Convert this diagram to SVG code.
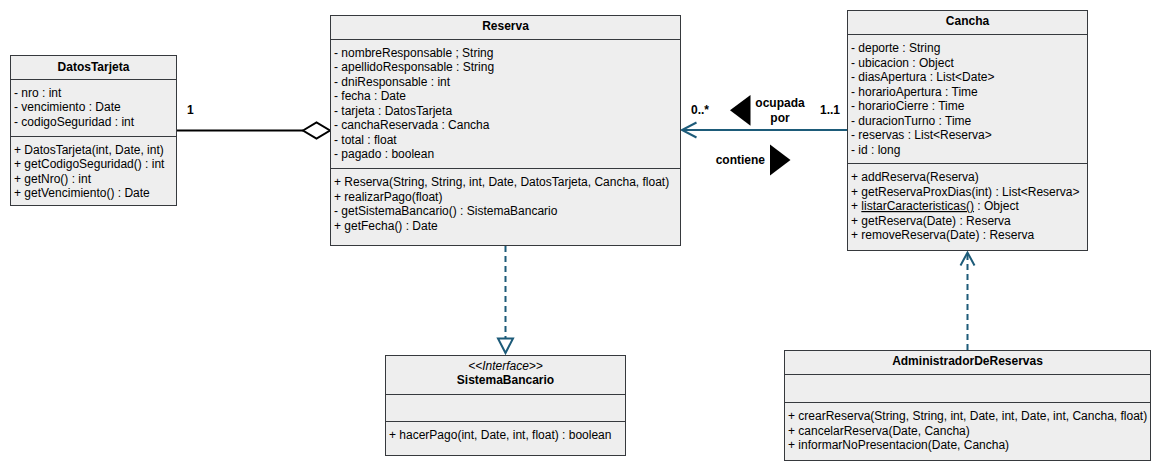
<svg xmlns="http://www.w3.org/2000/svg" width="1161" height="472" viewBox="0 0 1161 472">
<style>
.box{fill:#eeeeee;stroke:#36393d;stroke-width:1}
.sep{stroke:#36393d;stroke-width:1}
text{font-family:"Liberation Sans",Arial,sans-serif;font-size:12px;fill:#000}
.t{font-weight:bold;text-anchor:middle}
.lbl{font-weight:bold}
.blue{stroke:#1d5b79;stroke-width:2;fill:none}
.dash{stroke-dasharray:6 4}
</style>
<rect width="1161" height="472" fill="#ffffff"/>

<g id="connectors">
  <!-- aggregation DatosTarjeta - Reserva -->
  <line x1="176.5" y1="130.5" x2="303" y2="130.5" stroke="#000" stroke-width="2"/>
  <path d="M303 130.5 L316.5 122.5 L330 130.5 L316.5 138.5 Z" fill="#fff" stroke="#000" stroke-width="2"/>
  <text class="lbl" x="187" y="114">1</text>
  <!-- association Cancha -> Reserva -->
  <line class="blue" x1="847" y1="130" x2="682" y2="130"/>
  <path class="blue" d="M696.5 122.5 L682 130 L696.5 137.5"/>
  <text class="lbl" x="691" y="114">0..*</text>
  <text class="lbl" x="820" y="114">1..1</text>
  <text class="lbl" x="780" y="107" text-anchor="middle">ocupada</text>
  <text class="lbl" x="780" y="122" text-anchor="middle">por</text>
  <path d="M750.5 95 L730 110.3 L750.5 125.7 Z" fill="#000"/>
  <text class="lbl" x="765" y="164" text-anchor="end">contiene</text>
  <path d="M770 144.5 L790.5 160 L770 175.5 Z" fill="#000"/>
  <!-- realization Reserva -> SistemaBancario -->
  <line class="blue dash" x1="505.5" y1="246" x2="505.5" y2="338"/>
  <path d="M498 338.5 L513 338.5 L505.5 353 Z" fill="#fff" stroke="#1d5b79" stroke-width="2"/>
  <!-- dependency Admin -> Cancha -->
  <line class="blue dash" x1="967.5" y1="350" x2="967.5" y2="254"/>
  <path class="blue" d="M960.5 265.5 L967.5 252.5 L974.5 265.5"/>
</g>

<g id="DatosTarjeta">
  <rect class="box" x="10.5" y="55.5" width="166" height="150"/>
  <line class="sep" x1="10.5" y1="79.5" x2="176.5" y2="79.5"/>
  <line class="sep" x1="10.5" y1="136.5" x2="176.5" y2="136.5"/>
  <text class="t" x="93.5" y="71">DatosTarjeta</text>
  <text x="14" y="96.5">- nro : int</text>
  <text x="14" y="111">- vencimiento : Date</text>
  <text x="14" y="125.5">- codigoSeguridad : int</text>
  <text x="14" y="153.8">+ DatosTarjeta(int, Date, int)</text>
  <text x="14" y="168.2">+ getCodigoSeguridad() : int</text>
  <text x="14" y="182.6">+ getNro() : int</text>
  <text x="14" y="197">+ getVencimiento() : Date</text>
</g>

<g id="Reserva">
  <rect class="box" x="330.5" y="15.5" width="350" height="230"/>
  <line class="sep" x1="330.5" y1="39.5" x2="680.5" y2="39.5"/>
  <line class="sep" x1="330.5" y1="168.5" x2="680.5" y2="168.5"/>
  <text class="t" x="505.5" y="30">Reserva</text>
  <text x="334" y="56.5">- nombreResponsable ; String</text>
  <text x="334" y="71">- apellidoResponsable : String</text>
  <text x="334" y="85.5">- dniResponsable : int</text>
  <text x="334" y="100">- fecha : Date</text>
  <text x="334" y="114.5">- tarjeta : DatosTarjeta</text>
  <text x="334" y="129">- canchaReservada : Cancha</text>
  <text x="334" y="143.5">- total : float</text>
  <text x="334" y="158">- pagado : boolean</text>
  <text x="334" y="186">+ Reserva(String, String, int, Date, DatosTarjeta, Cancha, float)</text>
  <text x="334" y="200.5">+ realizarPago(float)</text>
  <text x="334" y="215">- getSistemaBancario() : SistemaBancario</text>
  <text x="334" y="229.5">+ getFecha() : Date</text>
</g>

<g id="Cancha">
  <rect class="box" x="847.5" y="10.5" width="240" height="240"/>
  <line class="sep" x1="847.5" y1="34.5" x2="1087.5" y2="34.5"/>
  <line class="sep" x1="847.5" y1="163.5" x2="1087.5" y2="163.5"/>
  <text class="t" x="967.5" y="25">Cancha</text>
  <text x="851" y="52">- deporte : String</text>
  <text x="851" y="66.5">- ubicacion : Object</text>
  <text x="851" y="81">- diasApertura : List&lt;Date&gt;</text>
  <text x="851" y="95.5">- horarioApertura : Time</text>
  <text x="851" y="110">- horarioCierre : Time</text>
  <text x="851" y="124.5">- duracionTurno : Time</text>
  <text x="851" y="139">- reservas : List&lt;Reserva&gt;</text>
  <text x="851" y="153.5">- id : long</text>
  <text x="851" y="181">+ addReserva(Reserva)</text>
  <text x="851" y="195.5">+ getReservaProxDias(int) : List&lt;Reserva&gt;</text>
  <text x="851" y="210">+ <tspan text-decoration="underline">listarCaracteristicas()</tspan> : Object</text>
  <text x="851" y="224.5">+ getReserva(Date) : Reserva</text>
  <text x="851" y="239">+ removeReserva(Date) : Reserva</text>
</g>

<g id="SistemaBancario">
  <rect class="box" x="385.5" y="355.5" width="240" height="100"/>
  <line class="sep" x1="385.5" y1="394.5" x2="625.5" y2="394.5"/>
  <line class="sep" x1="385.5" y1="421.5" x2="625.5" y2="421.5"/>
  <text x="505.5" y="370" text-anchor="middle" font-style="italic">&lt;&lt;Interface&gt;&gt;</text>
  <text class="t" x="505.5" y="384">SistemaBancario</text>
  <text x="389" y="438.5">+ hacerPago(int, Date, int, float) : boolean</text>
</g>

<g id="AdministradorDeReservas">
  <rect class="box" x="784.5" y="350.5" width="366" height="110"/>
  <line class="sep" x1="784.5" y1="374.5" x2="1150.5" y2="374.5"/>
  <line class="sep" x1="784.5" y1="402.5" x2="1150.5" y2="402.5"/>
  <text class="t" x="967.5" y="365">AdministradorDeReservas</text>
  <text x="788" y="420">+ crearReserva(String, String, int, Date, int, Date, int, Cancha, float)</text>
  <text x="788" y="434.5">+ cancelarReserva(Date, Cancha)</text>
  <text x="788" y="449">+ informarNoPresentacion(Date, Cancha)</text>
</g>
</svg>
